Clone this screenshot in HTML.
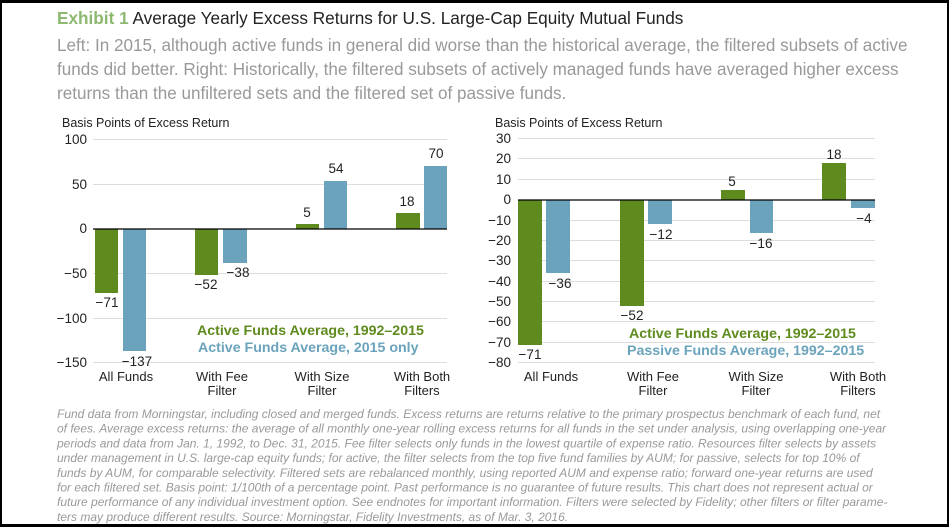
<!DOCTYPE html><html><head><style>
body{margin:0;background:#000;width:949px;height:527px;overflow:hidden;font-family:"Liberation Sans",sans-serif}
#w{position:absolute;left:2px;top:3px;width:945px;height:521px;background:#fff}
</style></head><body><div id="w"></div>
<svg width="949" height="527" style="position:absolute;left:0;top:0" font-family="Liberation Sans, sans-serif">
<text x="57" y="24" font-size="17.2" fill="#222"><tspan fill="#8db870" font-weight="bold">Exhibit 1</tspan> Average Yearly Excess Returns for U.S. Large-Cap Equity Mutual Funds</text>
<g font-size="17.1" fill="#999">
<text x="57" y="51">Left: In 2015, although active funds in general did worse than the historical average, the filtered subsets of active</text>
<text x="57" y="75">funds did better. Right: Historically, the filtered subsets of actively managed funds have averaged higher excess</text>
<text x="57" y="99">returns than the unfiltered sets and the filtered set of passive funds.</text>
</g>
<g font-size="12.5" fill="#222">
<text x="62" y="127">Basis Points of Excess Return</text>
<text x="495" y="127">Basis Points of Excess Return</text>
</g>
<g stroke="#ddd" stroke-width="1">
<line x1="93" x2="447" y1="139.5" y2="139.5"/><line x1="93" x2="447" y1="184.5" y2="184.5"/><line x1="93" x2="447" y1="273.5" y2="273.5"/><line x1="93" x2="447" y1="318.5" y2="318.5"/><line x1="93" x2="447" y1="362.5" y2="362.5"/>
</g>
<g font-size="13.5" fill="#222" text-anchor="end">
<text x="87" y="144">100</text><text x="87" y="189">50</text><text x="87" y="233">0</text><text x="87" y="278">−50</text><text x="87" y="323">−100</text><text x="87" y="367">−150</text>
</g>
<g fill="#5e8a1e"><rect x="95" y="229" width="23" height="64"/><rect x="195" y="229" width="23" height="46"/><rect x="296" y="224" width="23" height="5"/><rect x="396" y="213" width="24" height="16"/></g>
<g fill="#6aa3bb"><rect x="123" y="229" width="23" height="122"/><rect x="223" y="229" width="24" height="34"/><rect x="324" y="181" width="23" height="48"/><rect x="424" y="166" width="23" height="63"/></g>
<line x1="93" x2="447" y1="229" y2="229" stroke="#000" stroke-width="1.2"/>
<g font-size="13.5" fill="#222" text-anchor="middle">
<text x="107" y="307">−71</text><text x="137" y="366">−137</text><text x="206" y="289">−52</text><text x="238" y="277">−38</text><text x="307" y="217">5</text><text x="336" y="173">54</text><text x="407" y="206">18</text><text x="436" y="158">70</text>
</g>
<g font-size="14.2" font-weight="bold"><text x="197" y="335" fill="#5e8a1e">Active Funds Average, 1992–2015</text><text x="198" y="352" fill="#6aa3bb">Active Funds Average, 2015 only</text></g>
<g font-size="13" fill="#222" text-anchor="middle">
<text x="126" y="381">All Funds</text><text x="222" y="381">With Fee</text><text x="222" y="395">Filter</text><text x="322" y="381">With Size</text><text x="322" y="395">Filter</text><text x="422" y="381">With Both</text><text x="422" y="395">Filters</text>
</g>
<g stroke="#ddd">
<line x1="518" x2="875" y1="138.5" y2="138.5"/><line x1="518" x2="875" y1="158.5" y2="158.5"/><line x1="518" x2="875" y1="179.5" y2="179.5"/><line x1="518" x2="875" y1="220.5" y2="220.5"/><line x1="518" x2="875" y1="240.5" y2="240.5"/><line x1="518" x2="875" y1="260.5" y2="260.5"/><line x1="518" x2="875" y1="281.5" y2="281.5"/><line x1="518" x2="875" y1="301.5" y2="301.5"/><line x1="518" x2="875" y1="321.5" y2="321.5"/><line x1="518" x2="875" y1="342.5" y2="342.5"/><line x1="518" x2="875" y1="362.5" y2="362.5"/>
</g>
<g font-size="13.5" fill="#222" text-anchor="end">
<text x="511" y="143">30</text><text x="511" y="163">20</text><text x="511" y="184">10</text><text x="511" y="204">0</text><text x="511" y="225">−10</text><text x="511" y="245">−20</text><text x="511" y="265">−30</text><text x="511" y="286">−40</text><text x="511" y="306">−50</text><text x="511" y="326">−60</text><text x="511" y="347">−70</text><text x="511" y="367">−80</text>
</g>
<g fill="#5e8a1e"><rect x="518" y="200" width="24" height="145"/><rect x="620" y="200" width="24" height="106"/><rect x="721" y="190" width="24" height="10"/><rect x="822" y="163" width="24" height="37"/></g>
<g fill="#6aa3bb"><rect x="546" y="200" width="24" height="73"/><rect x="648" y="200" width="24" height="24"/><rect x="750" y="200" width="23" height="33"/><rect x="851" y="200" width="24" height="8"/></g>
<line x1="518" x2="875" y1="200" y2="200" stroke="#000" stroke-width="1.2"/>
<g font-size="13.5" fill="#222" text-anchor="middle">
<text x="530" y="359">−71</text><text x="560" y="288">−36</text><text x="632" y="320">−52</text><text x="661" y="239">−12</text><text x="732" y="186">5</text><text x="761" y="248">−16</text><text x="834" y="159">18</text><text x="864" y="223">−4</text>
</g>
<g font-size="14.2" font-weight="bold"><text x="629" y="338" fill="#5e8a1e">Active Funds Average, 1992–2015</text><text x="627" y="355" fill="#6aa3bb">Passive Funds Average, 1992–2015</text></g>
<g font-size="13" fill="#222" text-anchor="middle">
<text x="551" y="381">All Funds</text><text x="653" y="381">With Fee</text><text x="653" y="395">Filter</text><text x="756" y="381">With Size</text><text x="756" y="395">Filter</text><text x="858" y="381">With Both</text><text x="858" y="395">Filters</text>
</g>
<g font-size="12" font-style="italic" fill="#999">
<text x="57" y="418">Fund data from Morningstar, including closed and merged funds. Excess returns are returns relative to the primary prospectus benchmark of each fund, net</text>
<text x="57" y="432.7">of fees. Average excess returns: the average of all monthly one-year rolling excess returns for all funds in the set under analysis, using overlapping one-year</text>
<text x="57" y="447.4">periods and data from Jan. 1, 1992, to Dec. 31, 2015. Fee filter selects only funds in the lowest quartile of expense ratio. Resources filter selects by assets</text>
<text x="57" y="462.1">under management in U.S. large-cap equity funds; for active, the filter selects from the top five fund families by AUM; for passive, selects for top 10% of</text>
<text x="57" y="476.8">funds by AUM, for comparable selectivity. Filtered sets are rebalanced monthly, using reported AUM and expense ratio; forward one-year returns are used</text>
<text x="57" y="491.5">for each filtered set. Basis point: 1/100th of a percentage point. Past performance is no guarantee of future results. This chart does not represent actual or</text>
<text x="57" y="506.2">future performance of any individual investment option. See endnotes for important information. Filters were selected by Fidelity; other filters or filter parame-</text>
<text x="57" y="520.9">ters may produce different results. Source: Morningstar, Fidelity Investments, as of Mar. 3, 2016.</text>
</g>
</svg></body></html>
